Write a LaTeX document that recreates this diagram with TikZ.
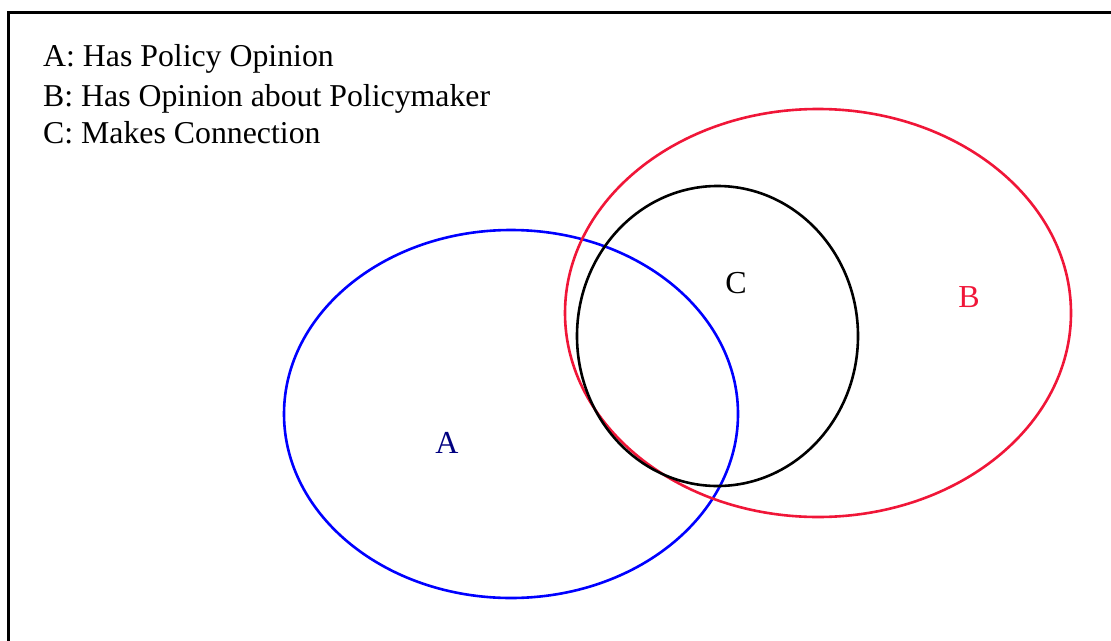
\documentclass[tikz,border=0pt]{standalone}
\usepackage{fontspec}
\setmainfont{Liberation Serif}
\definecolor{vred}{RGB}{240,22,56}
\definecolor{vnavy}{RGB}{0,0,128}
\begin{document}
\begin{tikzpicture}[x=1pt,y=-1pt,
  legend/.style={anchor=base west,inner sep=0pt,font=\fontsize{31.8}{38}\selectfont},
  setlabel/.style={inner sep=0pt,font=\fontsize{32}{38}\selectfont},
  setline/.style={line width=2.6pt}]
\useasboundingbox (0,0) rectangle (1111,640);
\draw[line width=3pt] (8,660) -- (8,12) -- (1130,12);
\node[legend] (la) at (43,66) {A: Has Policy Opinion};
\node[legend] (lb) at (43,106) {B: Has Opinion about Policymaker};
\node[legend] (lc) at (43,143) {C: Makes Connection};
\draw[setline,blue] (511,414) ellipse [x radius=227, y radius=184];
\draw[setline,vred] (818,313) ellipse [x radius=253, y radius=204];
\draw[setline,black] (717.5,336) ellipse [x radius=140.5, y radius=150];
\node[setlabel,text=vnavy] (A) at (447,443) {A};
\node[setlabel,text=vred] (B) at (969,297) {B};
\node[setlabel] (C) at (736,283) {C};
\end{tikzpicture}
\end{document}
